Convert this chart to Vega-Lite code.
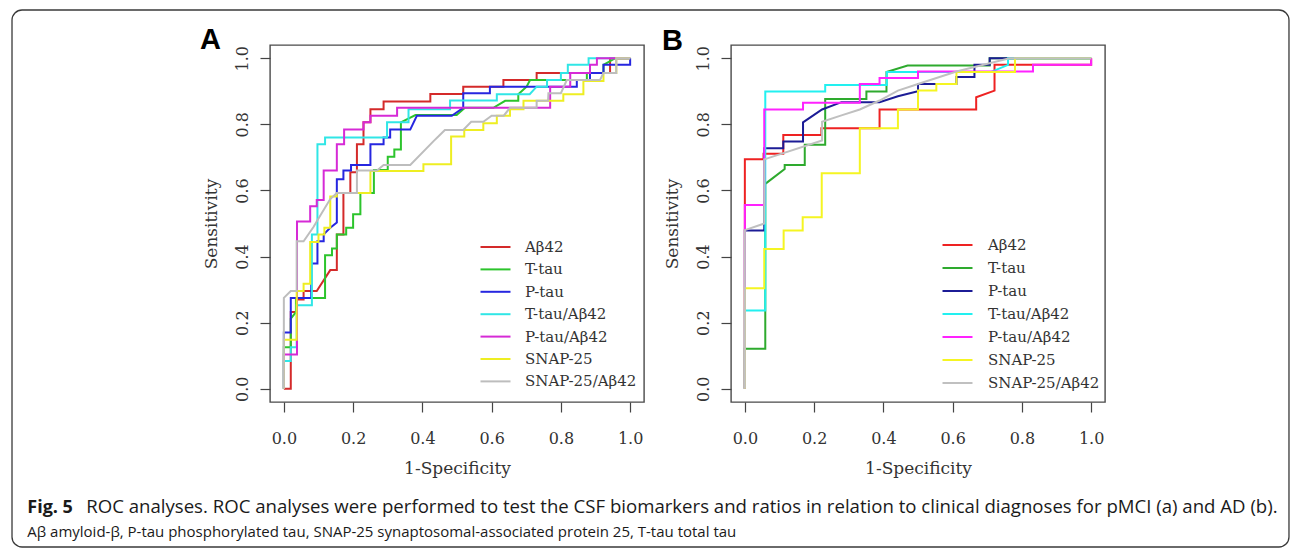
{
  "$schema": "https://vega.github.io/schema/vega-lite/v6.json",
  "padding": {"left": 10, "top": 8, "right": 2, "bottom": 0},
  "background": "white",
  "datasets": {
    "A": [
      {"s":"Aβ42","x":0,"y":0},{"s":"Aβ42","x":0.02,"y":0},{"s":"Aβ42","x":0.02,"y":0.232},{"s":"Aβ42","x":0.035,"y":0.232},{"s":"Aβ42","x":0.035,"y":0.27},{"s":"Aβ42","x":0.057,"y":0.27},{"s":"Aβ42","x":0.057,"y":0.296},{"s":"Aβ42","x":0.095,"y":0.296},{"s":"Aβ42","x":0.134,"y":0.359},{"s":"Aβ42","x":0.153,"y":0.359},{"s":"Aβ42","x":0.153,"y":0.467},{"s":"Aβ42","x":0.172,"y":0.467},{"s":"Aβ42","x":0.172,"y":0.592},{"s":"Aβ42","x":0.192,"y":0.592},{"s":"Aβ42","x":0.192,"y":0.655},{"s":"Aβ42","x":0.211,"y":0.655},{"s":"Aβ42","x":0.211,"y":0.74},{"s":"Aβ42","x":0.23,"y":0.74},{"s":"Aβ42","x":0.23,"y":0.806},{"s":"Aβ42","x":0.25,"y":0.806},{"s":"Aβ42","x":0.25,"y":0.846},{"s":"Aβ42","x":0.288,"y":0.846},{"s":"Aβ42","x":0.288,"y":0.869},{"s":"Aβ42","x":0.423,"y":0.869},{"s":"Aβ42","x":0.423,"y":0.892},{"s":"Aβ42","x":0.518,"y":0.892},{"s":"Aβ42","x":0.518,"y":0.914},{"s":"Aβ42","x":0.634,"y":0.914},{"s":"Aβ42","x":0.634,"y":0.934},{"s":"Aβ42","x":0.73,"y":0.934},{"s":"Aβ42","x":0.73,"y":0.955},{"s":"Aβ42","x":0.942,"y":0.955},{"s":"Aβ42","x":0.942,"y":1},{"s":"Aβ42","x":1,"y":1},
      {"s":"T-tau","x":0,"y":0},{"s":"T-tau","x":0,"y":0.126},{"s":"T-tau","x":0.02,"y":0.126},{"s":"T-tau","x":0.02,"y":0.212},{"s":"T-tau","x":0.035,"y":0.232},{"s":"T-tau","x":0.035,"y":0.275},{"s":"T-tau","x":0.119,"y":0.275},{"s":"T-tau","x":0.119,"y":0.404},{"s":"T-tau","x":0.139,"y":0.404},{"s":"T-tau","x":0.139,"y":0.424},{"s":"T-tau","x":0.153,"y":0.424},{"s":"T-tau","x":0.153,"y":0.467},{"s":"T-tau","x":0.18,"y":0.467},{"s":"T-tau","x":0.18,"y":0.487},{"s":"T-tau","x":0.2,"y":0.487},{"s":"T-tau","x":0.2,"y":0.528},{"s":"T-tau","x":0.221,"y":0.528},{"s":"T-tau","x":0.221,"y":0.592},{"s":"T-tau","x":0.26,"y":0.592},{"s":"T-tau","x":0.26,"y":0.662},{"s":"T-tau","x":0.3,"y":0.662},{"s":"T-tau","x":0.3,"y":0.702},{"s":"T-tau","x":0.319,"y":0.702},{"s":"T-tau","x":0.319,"y":0.724},{"s":"T-tau","x":0.338,"y":0.724},{"s":"T-tau","x":0.338,"y":0.806},{"s":"T-tau","x":0.38,"y":0.828},{"s":"T-tau","x":0.499,"y":0.828},{"s":"T-tau","x":0.523,"y":0.85},{"s":"T-tau","x":0.605,"y":0.85},{"s":"T-tau","x":0.639,"y":0.871},{"s":"T-tau","x":0.677,"y":0.871},{"s":"T-tau","x":0.677,"y":0.891},{"s":"T-tau","x":0.701,"y":0.914},{"s":"T-tau","x":0.711,"y":0.934},{"s":"T-tau","x":0.875,"y":0.934},{"s":"T-tau","x":0.875,"y":0.955},{"s":"T-tau","x":0.923,"y":0.955},{"s":"T-tau","x":0.923,"y":0.98},{"s":"T-tau","x":0.957,"y":1},{"s":"T-tau","x":1,"y":1},
      {"s":"P-tau","x":0,"y":0},{"s":"P-tau","x":0,"y":0.17},{"s":"P-tau","x":0.02,"y":0.17},{"s":"P-tau","x":0.02,"y":0.275},{"s":"P-tau","x":0.079,"y":0.275},{"s":"P-tau","x":0.079,"y":0.379},{"s":"P-tau","x":0.097,"y":0.379},{"s":"P-tau","x":0.097,"y":0.446},{"s":"P-tau","x":0.115,"y":0.446},{"s":"P-tau","x":0.115,"y":0.467},{"s":"P-tau","x":0.134,"y":0.487},{"s":"P-tau","x":0.153,"y":0.503},{"s":"P-tau","x":0.153,"y":0.634},{"s":"P-tau","x":0.172,"y":0.634},{"s":"P-tau","x":0.172,"y":0.66},{"s":"P-tau","x":0.194,"y":0.66},{"s":"P-tau","x":0.194,"y":0.677},{"s":"P-tau","x":0.25,"y":0.677},{"s":"P-tau","x":0.25,"y":0.74},{"s":"P-tau","x":0.288,"y":0.74},{"s":"P-tau","x":0.288,"y":0.76},{"s":"P-tau","x":0.307,"y":0.76},{"s":"P-tau","x":0.307,"y":0.784},{"s":"P-tau","x":0.365,"y":0.784},{"s":"P-tau","x":0.384,"y":0.826},{"s":"P-tau","x":0.485,"y":0.826},{"s":"P-tau","x":0.518,"y":0.85},{"s":"P-tau","x":0.518,"y":0.894},{"s":"P-tau","x":0.595,"y":0.894},{"s":"P-tau","x":0.595,"y":0.914},{"s":"P-tau","x":0.846,"y":0.914},{"s":"P-tau","x":0.846,"y":0.934},{"s":"P-tau","x":0.884,"y":0.934},{"s":"P-tau","x":0.884,"y":0.955},{"s":"P-tau","x":0.923,"y":0.955},{"s":"P-tau","x":0.923,"y":0.98},{"s":"P-tau","x":1,"y":0.98},{"s":"P-tau","x":1,"y":1},
      {"s":"T-tau/Aβ42","x":0,"y":0},{"s":"T-tau/Aβ42","x":0,"y":0.084},{"s":"T-tau/Aβ42","x":0.02,"y":0.084},{"s":"T-tau/Aβ42","x":0.02,"y":0.126},{"s":"T-tau/Aβ42","x":0.037,"y":0.126},{"s":"T-tau/Aβ42","x":0.037,"y":0.253},{"s":"T-tau/Aβ42","x":0.081,"y":0.253},{"s":"T-tau/Aβ42","x":0.081,"y":0.467},{"s":"T-tau/Aβ42","x":0.097,"y":0.467},{"s":"T-tau/Aβ42","x":0.097,"y":0.74},{"s":"T-tau/Aβ42","x":0.119,"y":0.74},{"s":"T-tau/Aβ42","x":0.119,"y":0.76},{"s":"T-tau/Aβ42","x":0.298,"y":0.76},{"s":"T-tau/Aβ42","x":0.298,"y":0.806},{"s":"T-tau/Aβ42","x":0.36,"y":0.806},{"s":"T-tau/Aβ42","x":0.36,"y":0.846},{"s":"T-tau/Aβ42","x":0.48,"y":0.846},{"s":"T-tau/Aβ42","x":0.48,"y":0.872},{"s":"T-tau/Aβ42","x":0.615,"y":0.872},{"s":"T-tau/Aβ42","x":0.615,"y":0.891},{"s":"T-tau/Aβ42","x":0.71,"y":0.891},{"s":"T-tau/Aβ42","x":0.73,"y":0.914},{"s":"T-tau/Aβ42","x":0.76,"y":0.914},{"s":"T-tau/Aβ42","x":0.76,"y":0.934},{"s":"T-tau/Aβ42","x":0.8,"y":0.934},{"s":"T-tau/Aβ42","x":0.8,"y":0.955},{"s":"T-tau/Aβ42","x":0.82,"y":0.955},{"s":"T-tau/Aβ42","x":0.82,"y":0.98},{"s":"T-tau/Aβ42","x":0.88,"y":0.98},{"s":"T-tau/Aβ42","x":0.88,"y":1},{"s":"T-tau/Aβ42","x":1,"y":1},
      {"s":"P-tau/Aβ42","x":0,"y":0},{"s":"P-tau/Aβ42","x":0,"y":0.104},{"s":"P-tau/Aβ42","x":0.038,"y":0.104},{"s":"P-tau/Aβ42","x":0.038,"y":0.506},{"s":"P-tau/Aβ42","x":0.076,"y":0.506},{"s":"P-tau/Aβ42","x":0.076,"y":0.552},{"s":"P-tau/Aβ42","x":0.095,"y":0.552},{"s":"P-tau/Aβ42","x":0.095,"y":0.571},{"s":"P-tau/Aβ42","x":0.115,"y":0.571},{"s":"P-tau/Aβ42","x":0.115,"y":0.66},{"s":"P-tau/Aβ42","x":0.153,"y":0.66},{"s":"P-tau/Aβ42","x":0.153,"y":0.74},{"s":"P-tau/Aβ42","x":0.174,"y":0.74},{"s":"P-tau/Aβ42","x":0.174,"y":0.784},{"s":"P-tau/Aβ42","x":0.23,"y":0.784},{"s":"P-tau/Aβ42","x":0.23,"y":0.806},{"s":"P-tau/Aβ42","x":0.25,"y":0.806},{"s":"P-tau/Aβ42","x":0.25,"y":0.826},{"s":"P-tau/Aβ42","x":0.327,"y":0.826},{"s":"P-tau/Aβ42","x":0.327,"y":0.85},{"s":"P-tau/Aβ42","x":0.769,"y":0.85},{"s":"P-tau/Aβ42","x":0.769,"y":0.914},{"s":"P-tau/Aβ42","x":0.827,"y":0.914},{"s":"P-tau/Aβ42","x":0.827,"y":0.955},{"s":"P-tau/Aβ42","x":0.884,"y":0.955},{"s":"P-tau/Aβ42","x":0.884,"y":0.98},{"s":"P-tau/Aβ42","x":0.904,"y":0.98},{"s":"P-tau/Aβ42","x":0.904,"y":1},{"s":"P-tau/Aβ42","x":1,"y":1},
      {"s":"SNAP-25","x":0,"y":0},{"s":"SNAP-25","x":0,"y":0.148},{"s":"SNAP-25","x":0.037,"y":0.148},{"s":"SNAP-25","x":0.037,"y":0.296},{"s":"SNAP-25","x":0.057,"y":0.296},{"s":"SNAP-25","x":0.057,"y":0.318},{"s":"SNAP-25","x":0.076,"y":0.318},{"s":"SNAP-25","x":0.076,"y":0.444},{"s":"SNAP-25","x":0.1,"y":0.444},{"s":"SNAP-25","x":0.1,"y":0.467},{"s":"SNAP-25","x":0.117,"y":0.467},{"s":"SNAP-25","x":0.117,"y":0.487},{"s":"SNAP-25","x":0.134,"y":0.487},{"s":"SNAP-25","x":0.134,"y":0.582},{"s":"SNAP-25","x":0.153,"y":0.582},{"s":"SNAP-25","x":0.153,"y":0.592},{"s":"SNAP-25","x":0.25,"y":0.592},{"s":"SNAP-25","x":0.25,"y":0.659},{"s":"SNAP-25","x":0.403,"y":0.659},{"s":"SNAP-25","x":0.403,"y":0.679},{"s":"SNAP-25","x":0.483,"y":0.679},{"s":"SNAP-25","x":0.483,"y":0.763},{"s":"SNAP-25","x":0.521,"y":0.763},{"s":"SNAP-25","x":0.521,"y":0.783},{"s":"SNAP-25","x":0.576,"y":0.783},{"s":"SNAP-25","x":0.576,"y":0.803},{"s":"SNAP-25","x":0.615,"y":0.803},{"s":"SNAP-25","x":0.615,"y":0.826},{"s":"SNAP-25","x":0.653,"y":0.826},{"s":"SNAP-25","x":0.653,"y":0.846},{"s":"SNAP-25","x":0.692,"y":0.846},{"s":"SNAP-25","x":0.692,"y":0.871},{"s":"SNAP-25","x":0.807,"y":0.871},{"s":"SNAP-25","x":0.807,"y":0.891},{"s":"SNAP-25","x":0.865,"y":0.891},{"s":"SNAP-25","x":0.865,"y":0.931},{"s":"SNAP-25","x":0.923,"y":0.931},{"s":"SNAP-25","x":0.923,"y":0.955},{"s":"SNAP-25","x":0.96,"y":0.955},{"s":"SNAP-25","x":0.96,"y":1},{"s":"SNAP-25","x":1,"y":1},
      {"s":"SNAP-25/Aβ42","x":0,"y":0},{"s":"SNAP-25/Aβ42","x":0,"y":0.275},{"s":"SNAP-25/Aβ42","x":0.02,"y":0.296},{"s":"SNAP-25/Aβ42","x":0.037,"y":0.296},{"s":"SNAP-25/Aβ42","x":0.037,"y":0.446},{"s":"SNAP-25/Aβ42","x":0.057,"y":0.446},{"s":"SNAP-25/Aβ42","x":0.086,"y":0.49},{"s":"SNAP-25/Aβ42","x":0.1,"y":0.515},{"s":"SNAP-25/Aβ42","x":0.134,"y":0.574},{"s":"SNAP-25/Aβ42","x":0.153,"y":0.592},{"s":"SNAP-25/Aβ42","x":0.211,"y":0.592},{"s":"SNAP-25/Aβ42","x":0.211,"y":0.66},{"s":"SNAP-25/Aβ42","x":0.269,"y":0.66},{"s":"SNAP-25/Aβ42","x":0.288,"y":0.677},{"s":"SNAP-25/Aβ42","x":0.365,"y":0.677},{"s":"SNAP-25/Aβ42","x":0.433,"y":0.75},{"s":"SNAP-25/Aβ42","x":0.446,"y":0.763},{"s":"SNAP-25/Aβ42","x":0.465,"y":0.783},{"s":"SNAP-25/Aβ42","x":0.518,"y":0.783},{"s":"SNAP-25/Aβ42","x":0.541,"y":0.808},{"s":"SNAP-25/Aβ42","x":0.576,"y":0.808},{"s":"SNAP-25/Aβ42","x":0.6,"y":0.826},{"s":"SNAP-25/Aβ42","x":0.635,"y":0.826},{"s":"SNAP-25/Aβ42","x":0.653,"y":0.85},{"s":"SNAP-25/Aβ42","x":0.73,"y":0.85},{"s":"SNAP-25/Aβ42","x":0.73,"y":0.871},{"s":"SNAP-25/Aβ42","x":0.763,"y":0.871},{"s":"SNAP-25/Aβ42","x":0.764,"y":0.894},{"s":"SNAP-25/Aβ42","x":0.8,"y":0.894},{"s":"SNAP-25/Aβ42","x":0.817,"y":0.934},{"s":"SNAP-25/Aβ42","x":0.913,"y":0.934},{"s":"SNAP-25/Aβ42","x":0.923,"y":0.955},{"s":"SNAP-25/Aβ42","x":0.96,"y":0.955},{"s":"SNAP-25/Aβ42","x":0.96,"y":1},{"s":"SNAP-25/Aβ42","x":1,"y":1}
    ],
    "B": [
      {"s":"Aβ42","x":0,"y":0},{"s":"Aβ42","x":0,"y":0.694},{"s":"Aβ42","x":0.054,"y":0.694},{"s":"Aβ42","x":0.054,"y":0.711},{"s":"Aβ42","x":0.111,"y":0.711},{"s":"Aβ42","x":0.111,"y":0.768},{"s":"Aβ42","x":0.221,"y":0.768},{"s":"Aβ42","x":0.221,"y":0.788},{"s":"Aβ42","x":0.389,"y":0.788},{"s":"Aβ42","x":0.389,"y":0.845},{"s":"Aβ42","x":0.668,"y":0.845},{"s":"Aβ42","x":0.668,"y":0.882},{"s":"Aβ42","x":0.721,"y":0.902},{"s":"Aβ42","x":0.721,"y":0.98},{"s":"Aβ42","x":1,"y":0.98},{"s":"Aβ42","x":1,"y":1},
      {"s":"T-tau","x":0,"y":0},{"s":"T-tau","x":0,"y":0.121},{"s":"T-tau","x":0.059,"y":0.121},{"s":"T-tau","x":0.059,"y":0.62},{"s":"T-tau","x":0.115,"y":0.665},{"s":"T-tau","x":0.115,"y":0.677},{"s":"T-tau","x":0.173,"y":0.677},{"s":"T-tau","x":0.173,"y":0.738},{"s":"T-tau","x":0.232,"y":0.738},{"s":"T-tau","x":0.232,"y":0.877},{"s":"T-tau","x":0.351,"y":0.877},{"s":"T-tau","x":0.351,"y":0.899},{"s":"T-tau","x":0.409,"y":0.899},{"s":"T-tau","x":0.409,"y":0.958},{"s":"T-tau","x":0.47,"y":0.978},{"s":"T-tau","x":0.707,"y":0.978},{"s":"T-tau","x":0.707,"y":1},{"s":"T-tau","x":1,"y":1},
      {"s":"P-tau","x":0,"y":0},{"s":"P-tau","x":0,"y":0.479},{"s":"P-tau","x":0.056,"y":0.479},{"s":"P-tau","x":0.056,"y":0.728},{"s":"P-tau","x":0.111,"y":0.728},{"s":"P-tau","x":0.111,"y":0.748},{"s":"P-tau","x":0.168,"y":0.748},{"s":"P-tau","x":0.168,"y":0.806},{"s":"P-tau","x":0.223,"y":0.845},{"s":"P-tau","x":0.279,"y":0.867},{"s":"P-tau","x":0.389,"y":0.867},{"s":"P-tau","x":0.442,"y":0.885},{"s":"P-tau","x":0.5,"y":0.9},{"s":"P-tau","x":0.5,"y":0.922},{"s":"P-tau","x":0.611,"y":0.922},{"s":"P-tau","x":0.611,"y":0.943},{"s":"P-tau","x":0.663,"y":0.943},{"s":"P-tau","x":0.663,"y":0.98},{"s":"P-tau","x":0.707,"y":0.98},{"s":"P-tau","x":0.707,"y":1},{"s":"P-tau","x":1,"y":1},
      {"s":"T-tau/Aβ42","x":0,"y":0},{"s":"T-tau/Aβ42","x":0,"y":0.237},{"s":"T-tau/Aβ42","x":0.059,"y":0.237},{"s":"T-tau/Aβ42","x":0.059,"y":0.899},{"s":"T-tau/Aβ42","x":0.232,"y":0.899},{"s":"T-tau/Aβ42","x":0.232,"y":0.919},{"s":"T-tau/Aβ42","x":0.41,"y":0.919},{"s":"T-tau/Aβ42","x":0.41,"y":0.958},{"s":"T-tau/Aβ42","x":0.71,"y":0.958},{"s":"T-tau/Aβ42","x":0.76,"y":0.98},{"s":"T-tau/Aβ42","x":0.76,"y":1},{"s":"T-tau/Aβ42","x":1,"y":1},
      {"s":"P-tau/Aβ42","x":0,"y":0},{"s":"P-tau/Aβ42","x":0,"y":0.556},{"s":"P-tau/Aβ42","x":0.056,"y":0.556},{"s":"P-tau/Aβ42","x":0.056,"y":0.845},{"s":"P-tau/Aβ42","x":0.168,"y":0.845},{"s":"P-tau/Aβ42","x":0.168,"y":0.865},{"s":"P-tau/Aβ42","x":0.332,"y":0.865},{"s":"P-tau/Aβ42","x":0.332,"y":0.922},{"s":"P-tau/Aβ42","x":0.389,"y":0.922},{"s":"P-tau/Aβ42","x":0.389,"y":0.94},{"s":"P-tau/Aβ42","x":0.5,"y":0.94},{"s":"P-tau/Aβ42","x":0.5,"y":0.96},{"s":"P-tau/Aβ42","x":0.832,"y":0.96},{"s":"P-tau/Aβ42","x":0.832,"y":0.98},{"s":"P-tau/Aβ42","x":1,"y":0.98},{"s":"P-tau/Aβ42","x":1,"y":1},
      {"s":"SNAP-25","x":0,"y":0},{"s":"SNAP-25","x":0,"y":0.304},{"s":"SNAP-25","x":0.056,"y":0.304},{"s":"SNAP-25","x":0.056,"y":0.423},{"s":"SNAP-25","x":0.112,"y":0.423},{"s":"SNAP-25","x":0.112,"y":0.479},{"s":"SNAP-25","x":0.167,"y":0.479},{"s":"SNAP-25","x":0.167,"y":0.519},{"s":"SNAP-25","x":0.222,"y":0.519},{"s":"SNAP-25","x":0.222,"y":0.652},{"s":"SNAP-25","x":0.332,"y":0.652},{"s":"SNAP-25","x":0.332,"y":0.788},{"s":"SNAP-25","x":0.442,"y":0.788},{"s":"SNAP-25","x":0.442,"y":0.845},{"s":"SNAP-25","x":0.5,"y":0.845},{"s":"SNAP-25","x":0.5,"y":0.902},{"s":"SNAP-25","x":0.553,"y":0.902},{"s":"SNAP-25","x":0.553,"y":0.922},{"s":"SNAP-25","x":0.611,"y":0.922},{"s":"SNAP-25","x":0.611,"y":0.958},{"s":"SNAP-25","x":0.78,"y":0.958},{"s":"SNAP-25","x":0.78,"y":1},{"s":"SNAP-25","x":1,"y":1},
      {"s":"SNAP-25/Aβ42","x":0,"y":0},{"s":"SNAP-25/Aβ42","x":0,"y":0.48},{"s":"SNAP-25/Aβ42","x":0.056,"y":0.5},{"s":"SNAP-25/Aβ42","x":0.056,"y":0.694},{"s":"SNAP-25/Aβ42","x":0.223,"y":0.751},{"s":"SNAP-25/Aβ42","x":0.223,"y":0.808},{"s":"SNAP-25/Aβ42","x":0.279,"y":0.827},{"s":"SNAP-25/Aβ42","x":0.332,"y":0.845},{"s":"SNAP-25/Aβ42","x":0.389,"y":0.872},{"s":"SNAP-25/Aβ42","x":0.442,"y":0.902},{"s":"SNAP-25/Aβ42","x":0.5,"y":0.922},{"s":"SNAP-25/Aβ42","x":0.611,"y":0.96},{"s":"SNAP-25/Aβ42","x":0.764,"y":1},{"s":"SNAP-25/Aβ42","x":1,"y":1}
    ]
  },
  "title": {
    "text": "Fig. 5",
    "subtitle": "Aβ amyloid-β, P-tau phosphorylated tau, SNAP-25 synaptosomal-associated protein 25, T-tau total tau",
    "orient": "bottom", "anchor": "start", "frame": "bounds", "offset": -35.6, "dx": 16.6,
    "font": "Open Sans", "fontSize": 18, "fontWeight": "bold", "color": "#1a1a1a", "baseline": "alphabetic",
    "subtitleFont": "Open Sans", "subtitleFontSize": 15, "subtitleFontWeight": "normal", "subtitleColor": "#1a1a1a", "subtitlePadding": 6
  },
  "hconcat": [
    {
      "title": {
        "text": "ROC analyses. ROC analyses were performed to test the CSF biomarkers and ratios in relation to clinical diagnoses for pMCI (a) and AD (b).",
        "orient": "bottom", "anchor": "start", "frame": "bounds", "offset": -35.6, "dx": 75.6,
        "font": "Open Sans", "fontSize": 18.6, "fontWeight": "normal", "color": "#1a1a1a", "baseline": "alphabetic"
      },
      "bounds": "flush",
      "spacing": 87,
      "resolve": {"scale": {"color": "independent"}, "legend": {"color": "independent"}},
      "hconcat": [
        {
          "width": 374, "height": 357,
          "view": {"stroke": "#4a4a4a", "strokeWidth": 1.4},
          "title": {"text": "A", "anchor": "start", "frame": "group", "orient": "top", "font": "Liberation Sans", "fontSize": 29, "fontWeight": "bold", "color": "#000000", "offset": -68.3, "dx": -70, "baseline": "alphabetic"},
          "layer": [
            {
              "data": {"values": [{"frame": "figure border"}]},
              "mark": {"type": "rect", "filled": false, "color": "#3a3a3a", "strokeWidth": 1.3, "cornerRadius": 10, "clip": false},
              "encoding": {
                "x": {"datum": -0.785, "type": "quantitative"},
                "x2": {"datum": 2.9025},
                "y": {"datum": 1.1459, "type": "quantitative"},
                "y2": {"datum": -0.4786}
              }
            },
            {
              "data": {"name": "A"},
              "mark": {"type": "line", "strokeWidth": 2},
              "encoding": {
                "x": {"field": "x", "type": "quantitative", "scale": {"domain": [-0.04, 1.04], "nice": false, "zero": false}, "axis": {"values": [0, 0.2, 0.4, 0.6, 0.8, 1], "format": ".1f", "title": "1-Specificity"}},
                "y": {"field": "y", "type": "quantitative", "scale": {"domain": [-0.04, 1.04], "nice": false, "zero": false}, "axis": {"values": [0, 0.2, 0.4, 0.6, 0.8, 1], "format": ".1f", "title": "Sensitivity"}},
                "color": {"field": "s", "type": "nominal",
                  "scale": {"domain": ["Aβ42", "T-tau", "P-tau", "T-tau/Aβ42", "P-tau/Aβ42", "SNAP-25", "SNAP-25/Aβ42"], "range": ["#d42a2a", "#2cc42c", "#2626e0", "#30e6e6", "#d62ad6", "#eeee22", "#bdbdbd"]},
                  "legend": {"orient": "none", "legendX": 218, "legendY": 194.5, "title": null, "symbolType": "M-3,0H3", "symbolSize": 100, "symbolStrokeWidth": 2, "labelFont": "DejaVu Serif", "labelFontSize": 15, "labelColor": "#333333", "rowPadding": 6.4, "labelOffset": 22, "padding": 0}},
                "order": {"value": null}
              }
            }
          ]
        },
        {
          "width": 374, "height": 357,
          "view": {"stroke": "#4a4a4a", "strokeWidth": 1.4},
          "title": {"text": "B", "anchor": "start", "frame": "group", "orient": "top", "font": "Liberation Sans", "fontSize": 29, "fontWeight": "bold", "color": "#000000", "offset": -34, "dx": -69, "baseline": "alphabetic"},
          "data": {"name": "B"},
          "mark": {"type": "line", "strokeWidth": 2},
          "encoding": {
            "x": {"field": "x", "type": "quantitative", "scale": {"domain": [-0.04, 1.04], "nice": false, "zero": false}, "axis": {"values": [0, 0.2, 0.4, 0.6, 0.8, 1], "format": ".1f", "title": "1-Specificity"}},
            "y": {"field": "y", "type": "quantitative", "scale": {"domain": [-0.04, 1.04], "nice": false, "zero": false}, "axis": {"values": [0, 0.2, 0.4, 0.6, 0.8, 1], "format": ".1f", "title": "Sensitivity"}},
            "color": {"field": "s", "type": "nominal",
              "scale": {"domain": ["Aβ42", "T-tau", "P-tau", "T-tau/Aβ42", "P-tau/Aβ42", "SNAP-25", "SNAP-25/Aβ42"], "range": ["#ee2222", "#2eaa2e", "#1c1c96", "#22f0f0", "#ff22ff", "#f5f522", "#c0c0c0"]},
              "legend": {"orient": "none", "legendX": 219, "legendY": 192.5, "title": null, "symbolType": "M-3,0H3", "symbolSize": 100, "symbolStrokeWidth": 2, "labelFont": "DejaVu Serif", "labelFontSize": 15, "labelColor": "#333333", "rowPadding": 7.0, "labelOffset": 23, "padding": 0}},
            "order": {"value": null}
          }
        }
      ]
    }
  ],
  "config": {
    "axis": {"grid": false, "domain": false, "ticks": true, "tickSize": 10, "tickColor": "#444444", "tickWidth": 1.2, "labelFont": "DejaVu Serif", "labelFontSize": 16, "labelColor": "#333333", "titleFont": "DejaVu Serif", "titleFontSize": 17, "titleFontWeight": "normal", "titleColor": "#333333"},
    "axisX": {"labelPadding": 18, "titlePadding": 14},
    "axisY": {"labelAngle": 270, "labelPadding": 10, "titlePadding": 14}
  }
}
